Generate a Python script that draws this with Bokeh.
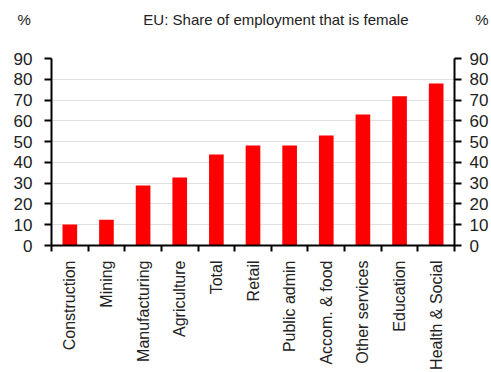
from math import pi
from bokeh.plotting import figure
from bokeh.models import (ColumnDataSource, Range1d, LinearAxis, FixedTicker)
from bokeh.embed import file_html
from bokeh.resources import INLINE

categories = ["Construction", "Mining", "Manufacturing", "Agriculture", "Total",
              "Retail", "Public admin", "Accom. & food", "Other services",
              "Education", "Health & Social"]
values = [10.1, 12.4, 28.9, 32.7, 43.8, 48.1, 48.1, 52.9, 63.0, 71.8, 78.0]
y_ticks = [0, 10, 20, 30, 40, 50, 60, 70, 80, 90]
title_text = "EU: Share of employment that is female"
unit_text = "%"

FONT = "Liberation Sans"
NBSP = "\u00a0"
x_pos = [i + 0.5 for i in range(len(categories))]
source = ColumnDataSource(dict(x=x_pos, top=values, cat=categories))

p = figure(width=491, height=372, output_backend="svg", toolbar_location=None,
           x_range=Range1d(0, len(categories)), y_range=Range1d(0, 90),
           min_border_left=51, min_border_right=34, min_border_top=58,
           min_border_bottom=127, outline_line_color=None,
           background_fill_color="white", border_fill_color="white")

p.vbar(x="x", top="top", width=0.4, bottom=0, source=source,
       fill_color="#ff0000", line_color=None)

# title line: unit marker, title, unit marker (blank second line lifts it up)
p.title.text = (unit_text + NBSP * 27 + title_text + NBSP * 16 + unit_text
                + "\n" + NBSP)
p.title.align = "left"
p.title.offset = -34
p.title.standoff = 0
p.title.text_line_height = 1.78
p.title.text_font = FONT
p.title.text_font_size = "15px"
p.title.text_font_style = "normal"
p.title.text_color = "#222222"

# grid
p.xgrid.visible = False
p.ygrid.ticker = FixedTicker(ticks=y_ticks[1:])
p.ygrid.grid_line_color = "#e0e0e0"
p.ygrid.grid_line_width = 1

# x axis
xa = p.xaxis[0]
xa.ticker = FixedTicker(ticks=x_pos, minor_ticks=list(range(len(categories) + 1)))
xa.major_label_overrides = {x: c for x, c in zip(x_pos, categories)}
xa.major_label_orientation = pi / 2
xa.major_tick_out = 0
xa.major_tick_in = 0
xa.minor_tick_out = 6
xa.minor_tick_in = 0
xa.minor_tick_line_color = "black"
xa.minor_tick_line_width = 2
xa.axis_line_color = "black"
xa.axis_line_width = 2
xa.major_label_text_font = FONT
xa.major_label_text_font_size = "16px"
xa.major_label_text_color = "#222222"
xa.major_label_standoff = 9

# y axes
def style_y(ax, standoff):
    ax.ticker = FixedTicker(ticks=y_ticks, minor_ticks=[])
    ax.major_tick_out = 7
    ax.major_tick_in = 0
    ax.major_tick_line_width = 2
    ax.major_tick_line_color = "black"
    ax.minor_tick_line_color = None
    ax.axis_line_color = "black"
    ax.axis_line_width = 2
    ax.major_label_text_font = FONT
    ax.major_label_text_font_size = "17px"
    ax.major_label_text_color = "#222222"
    ax.major_label_standoff = standoff

style_y(p.yaxis[0], 12)
ra = LinearAxis()
style_y(ra, 8)
p.add_layout(ra, "right")

open("out.html", "w").write(file_html(p, INLINE))
